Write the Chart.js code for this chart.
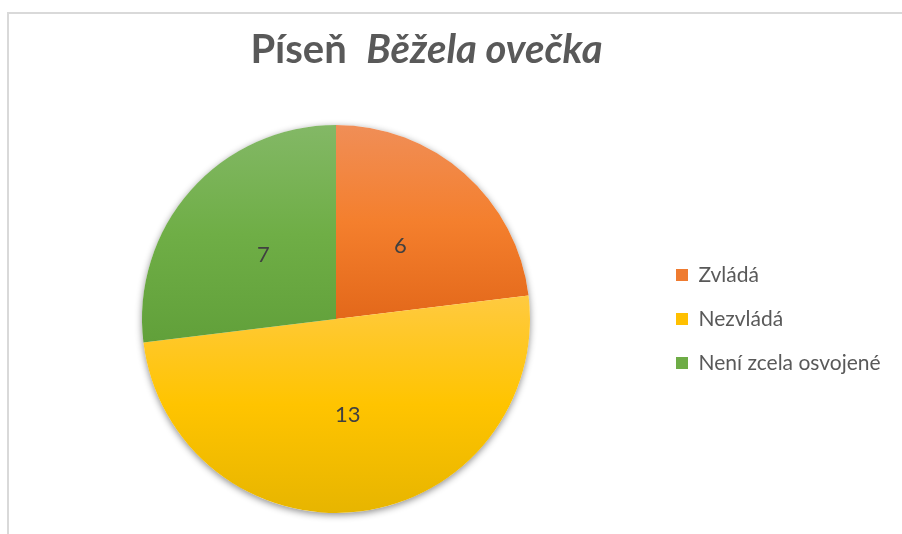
<!DOCTYPE html>
<html>
<head>
<meta charset="utf-8">
<script src="https://cdn.jsdelivr.net/npm/chart.js@4"></script>
<style>
  html, body { margin: 0; padding: 0; background: #fff; }
  #wrap { position: relative; width: 902px; height: 534px; overflow: hidden; }
  #frame { position: absolute; left: 7px; top: 12px; right: -10px; bottom: -10px;
           border-top: 2px solid #d9d9d9; border-left: 2px solid #d9d9d9; }
  #chart { position: absolute; left: 0; top: 0; }
</style>
</head>
<body>
<div id="wrap">
  <div id="frame"></div>
  <canvas id="chart" width="902" height="534"></canvas>
</div>
<script>
// data
const categories = ['Zvládá', 'Nezvládá', 'Není zcela osvojené'];
const values = [6, 13, 7];
const titleMain = 'Píseň';
const titleSong = 'Běžela ovečka';

// colours (top / middle / bottom of each slice gradient)
const sliceStops = [
    ['#f08e57', '#f47f2d', '#e3681a'],
    ['#ffca40', '#ffc400', '#e7b500'],
    ['#83b866', '#6fae46', '#61a03a']
];
const legendColors = ['#ef7b30', '#ffc000', '#6eac46'];
const textGray = '#595959';
const fontFamily = 'Lato, Carlito, Calibri, "Open Sans", sans-serif';
const legendFontSize = 21;

// work out legend width so the pie centre and legend markers sit where they should
const measureCtx = document.createElement('canvas').getContext('2d');
measureCtx.font = legendFontSize + 'px ' + fontFamily;
const longest = Math.max(...categories.map(c => measureCtx.measureText(c).width));
const legendPad = 23;
const legendW = legendPad + 12 + legendFontSize / 2 + longest + 10;
const legendLeft = 653;
const padRight = Math.max(0, 902 - legendLeft - legendW);

function sliceGradient(context) {
    const chart = context.chart;
    const area = chart.chartArea;
    const i = context.dataIndex;
    const stops = sliceStops[i % sliceStops.length];
    if (!area || i === undefined) return stops[1];
    const cx = (area.left + area.right) / 2;
    const cy = (area.top + area.bottom) / 2;
    const r = Math.min(area.right - area.left, area.bottom - area.top) / 2;
    const total = values.reduce((a, b) => a + b, 0);
    let start = 0;
    for (let k = 0; k < i; k++) start += values[k];
    const a0 = start / total * Math.PI * 2;
    const a1 = (start + values[i]) / total * Math.PI * 2;
    let minY = cy, maxY = cy;
    for (let t = 0; t <= 120; t++) {
        const a = a0 + (a1 - a0) * t / 120;
        const y = cy - r * Math.cos(a);
        minY = Math.min(minY, y);
        maxY = Math.max(maxY, y);
    }
    const g = chart.ctx.createLinearGradient(0, minY, 0, maxY);
    g.addColorStop(0, stops[0]);
    g.addColorStop(0.5, stops[1]);
    g.addColorStop(1, stops[2]);
    return g;
}

// soft shadow behind the whole pie
const pieShadow = {
    id: 'pieShadow',
    beforeDatasetsDraw(chart) {
        const arc = chart.getDatasetMeta(0).data[0];
        if (!arc) return;
        const ctx = chart.ctx;
        ctx.save();
        ctx.shadowColor = 'rgba(0,0,0,0.45)';
        ctx.shadowBlur = 7;
        ctx.shadowOffsetY = 2;
        ctx.fillStyle = '#ffffff';
        ctx.beginPath();
        ctx.arc(arc.x, arc.y, arc.outerRadius, 0, Math.PI * 2);
        ctx.fill();
        ctx.restore();
    }
};

// value labels in the middle of each slice
const sliceLabels = {
    id: 'sliceLabels',
    afterDatasetsDraw(chart) {
        const ctx = chart.ctx;
        ctx.save();
        ctx.font = '22px ' + fontFamily;
        ctx.fillStyle = '#404040';
        ctx.textAlign = 'center';
        ctx.textBaseline = 'middle';
        chart.getDatasetMeta(0).data.forEach((arc, i) => {
            const mid = (arc.startAngle + arc.endAngle) / 2;
            const d = arc.outerRadius * 0.5;
            ctx.fillText(String(values[i]), arc.x + Math.cos(mid) * d, arc.y + Math.sin(mid) * d);
        });
        ctx.restore();
    }
};

// title with the song name in italics
const mixedTitle = {
    id: 'mixedTitle',
    afterDraw(chart) {
        const ctx = chart.ctx;
        ctx.save();
        let size = 40;
        const part1 = titleMain + '  ';
        const measure = s => {
            ctx.font = 'bold ' + s + 'px ' + fontFamily;
            const w1 = ctx.measureText(part1).width;
            ctx.font = 'italic bold ' + s + 'px ' + fontFamily;
            return [w1, ctx.measureText(titleSong).width];
        };
        let [w1, w2] = measure(size);
        size = Math.min(40, size * 357 / (w1 + w2));
        [w1, w2] = measure(size);
        const x0 = 426.5 - (w1 + w2) / 2;
        ctx.fillStyle = textGray;
        ctx.textBaseline = 'alphabetic';
        ctx.textAlign = 'left';
        ctx.font = 'bold ' + size + 'px ' + fontFamily;
        ctx.fillText(part1, x0, 63);
        ctx.font = 'italic bold ' + size + 'px ' + fontFamily;
        ctx.fillText(titleSong, x0 + w1, 63);
        ctx.restore();
    }
};

new Chart(document.getElementById('chart'), {
    type: 'pie',
    data: {
        labels: categories,
        datasets: [{
            data: values,
            backgroundColor: sliceGradient,
            borderWidth: 0,
            hoverOffset: 0
        }]
    },
    options: {
        responsive: false,
        animation: false,
        layout: { padding: { left: 19, top: 125, bottom: 21, right: padRight } },
        plugins: {
            title: { display: false },
            tooltip: { enabled: false },
            legend: {
                position: 'right',
                maxWidth: 902 - legendLeft - padRight,
                labels: {
                    boxWidth: 12,
                    boxHeight: 12,
                    padding: legendPad,
                    color: textGray,
                    font: { family: fontFamily, size: legendFontSize },
                    generateLabels: chart => categories.map((c, i) => ({
                        text: c,
                        fillStyle: legendColors[i],
                        strokeStyle: legendColors[i],
                        lineWidth: 0,
                        fontColor: textGray,
                        hidden: false,
                        index: i
                    }))
                }
            }
        }
    },
    plugins: [pieShadow, sliceLabels, mixedTitle]
});
</script>
</body>
</html>
